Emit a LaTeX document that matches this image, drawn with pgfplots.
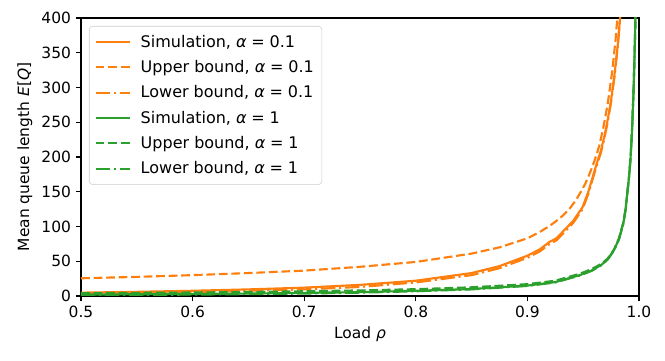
\documentclass[border=0pt]{standalone}
\usepackage{fontspec}
\setmainfont{DejaVu Sans}
\usepackage{pgfplots}
\pgfplotsset{compat=1.18}

\definecolor{mplorange}{HTML}{FF7F0E}
\definecolor{mplgreen}{HTML}{2CA02C}

% 1px of the reference = 0.75pt here
\newcommand{\eq}{\hspace{0.3em}=\hspace{0.3em}}
\begin{document}
\begin{tikzpicture}[font=\fontsize{11.6}{13.9}\selectfont]
\begin{axis}[
    name=main,
    scale only axis,
    width=418.5pt, height=208.5pt,
    xmin=0.5, xmax=1.0, ymin=0, ymax=400,
    xtick={0.5,0.6,0.7,0.8,0.9,1.0},
    ytick={0,50,100,150,200,250,300,350,400},
    xticklabel style={/pgf/number format/.cd, fixed, fixed zerofill, precision=1},
    /pgf/number format/assume math mode=true,
    xtick pos=left, ytick pos=left,
    tick align=outside,
    major tick length=4pt,
    every tick/.style={black, line width=0.8pt},
    axis line style={line width=0.8pt},
    xlabel={Load {\itshape ρ}},
    ylabel={Mean queue length {\itshape E}[{\itshape Q}]},
    legend cell align=left,
    legend style={at={(0,1)}, anchor=north west, xshift=6pt, yshift=-6pt,
        draw=black!20, rounded corners=2.5pt, fill=white, fill opacity=0.8,
        text opacity=1, row sep=4.4pt, inner xsep=4pt, inner ysep=4.5pt,
        font=\fontsize{12}{14}\selectfont},
    legend image code/.code={\draw[#1] (0pt,0pt) -- (26pt,0pt); \path (31pt,0pt);},
    every axis plot/.append style={line width=1.6pt},
    simline/.style={line width=1.6pt, solid},
    dashline/.style={line width=1.6pt, dash pattern=on 6.6pt off 2.8pt},
    dotline/.style={line width=1.6pt, dash pattern=on 10.8pt off 2.8pt on 1.6pt off 2.8pt},
]
% alpha = 0.1
\addplot[mplorange, simline] coordinates {
(0.50,4.8) (0.55,6) (0.60,7.5) (0.65,9.5) (0.70,12) (0.75,16) (0.80,22)
(0.85,33) (0.875,43) (0.90,58) (0.911,67) (0.920,78) (0.926,83) (0.935,98)
(0.941,108) (0.9495,128) (0.955,152) (0.959,174) (0.962,190) (0.966,210)
(0.969,230) (0.972,254) (0.975,282) (0.978,318) (0.981,362) (0.983,400)
(0.984,420)
};
\addlegendentry{Simulation, {\itshape α}\eq 0.1}
\addplot[mplorange, dashline] coordinates {
(0.50,25.5) (0.55,27.5) (0.60,30) (0.65,33) (0.70,36.5) (0.75,42) (0.80,49)
(0.85,61) (0.875,70) (0.90,83) (0.911,92) (0.920,101) (0.926,108)
(0.932,116) (0.938,126) (0.944,139) (0.9486,152) (0.952,162) (0.956,177)
(0.960,194) (0.9644,216) (0.968,242) (0.972,277) (0.976,323) (0.979,369)
(0.9806,400) (0.982,425)
};
\addlegendentry{Upper bound, {\itshape α}\eq 0.1}
\addplot[mplorange, dotline] coordinates {
(0.50,3) (0.55,4) (0.60,5.5) (0.65,7.5) (0.70,9.5) (0.75,13) (0.80,19.5)
(0.85,30) (0.875,40) (0.90,55) (0.911,64) (0.920,75) (0.926,80) (0.935,95)
(0.941,105) (0.9495,125) (0.955,149) (0.959,171) (0.962,187) (0.966,207)
(0.969,227) (0.972,251) (0.975,279) (0.978,315) (0.981,359) (0.983,398)
(0.984,420)
};
\addlegendentry{Lower bound, {\itshape α}\eq 0.1}
% alpha = 1
\addplot[mplgreen, simline] coordinates {
(0.50,2) (0.55,2.5) (0.60,3) (0.65,3.5) (0.70,4.5) (0.75,5.5) (0.80,7.5)
(0.85,10) (0.90,15) (0.925,20) (0.947,30) (0.958,37) (0.9665,45)
(0.972,53) (0.9776,66) (0.982,82) (0.986,105) (0.988,125) (0.9895,148)
(0.991,170) (0.9925,200) (0.9938,240) (0.995,290) (0.996,345)
(0.9968,400) (0.9972,430)
};
\addlegendentry{Simulation, {\itshape α}\eq 1}
\addplot[mplgreen, dashline] coordinates {
(0.50,4) (0.55,4.5) (0.60,5) (0.65,5.8) (0.70,6.8) (0.75,8) (0.80,9.8)
(0.85,12.5) (0.90,17) (0.925,22) (0.947,32) (0.958,39) (0.9665,46.5)
(0.972,54) (0.9776,67) (0.982,83) (0.986,106) (0.988,126) (0.9895,149)
(0.991,171) (0.9925,201) (0.9938,241) (0.995,291) (0.996,346)
(0.9968,401) (0.9972,430)
};
\addlegendentry{Upper bound, {\itshape α}\eq 1}
\addplot[mplgreen, dotline] coordinates {
(0.50,1) (0.55,1.5) (0.60,2) (0.65,2.7) (0.70,3.5) (0.75,4.8) (0.80,6.8)
(0.85,9.5) (0.90,14.5) (0.925,19.5) (0.947,29.5) (0.958,36.5) (0.9665,44.5)
(0.972,52.5) (0.9776,65.5) (0.982,81) (0.986,104) (0.988,124) (0.9895,147)
(0.991,169) (0.9925,199) (0.9938,239) (0.995,289) (0.996,344)
(0.9968,399) (0.9972,430)
};
\addlegendentry{Lower bound, {\itshape α}\eq 1}
\end{axis}
\pgfresetboundingbox
\path[use as bounding box] ([shift={(-60.75pt,-48.75pt)}]main.south west)
    rectangle ([shift={(19.5pt,13.5pt)}]main.north east);
\end{tikzpicture}
\end{document}
